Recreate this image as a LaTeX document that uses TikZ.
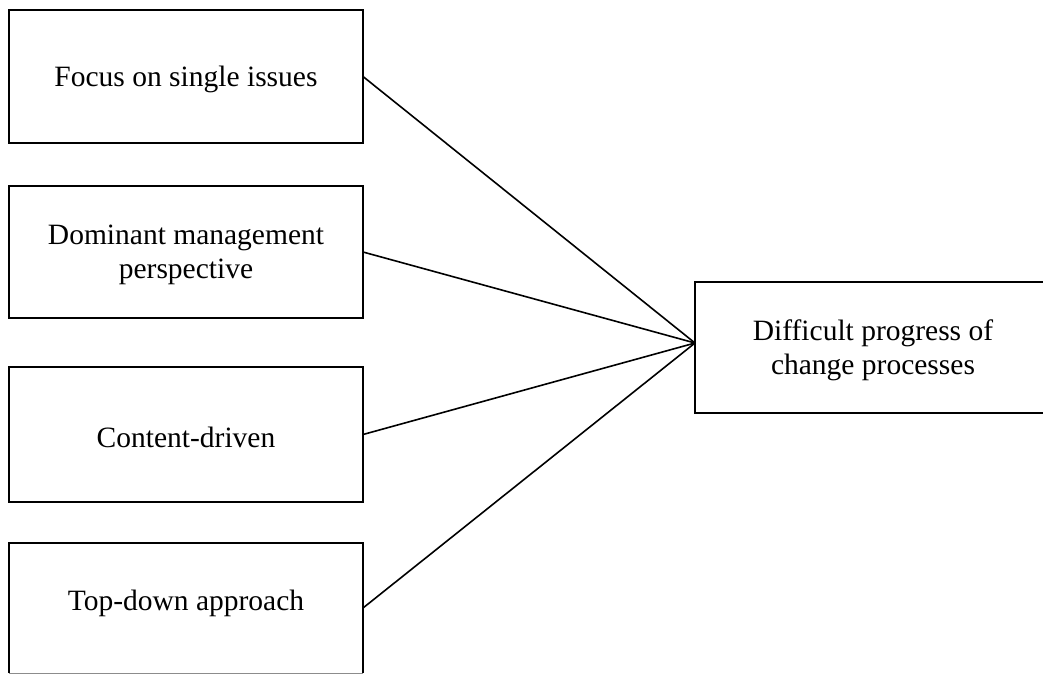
\documentclass[tikz,border=0pt]{standalone}
\usepackage{fontspec}
\setmainfont{Liberation Serif}
\begin{document}
\begin{tikzpicture}[x=1pt,y=-1pt,
  box/.style={draw=black,line width=1.6pt,inner sep=0pt,outer sep=0pt},
  txt/.style={inner sep=0pt,align=center,font=\fontsize{29.5}{34}\selectfont},
  link/.style={draw=black,line width=1.6pt}]
\useasboundingbox (0,0) rectangle (1043,675);
\clip (0,0) rectangle (1043,675);
\node[box,minimum width=354pt,minimum height=133pt] (a) at (186,76.5) {};
\node[txt,yshift=-2.5pt] (ta) at (a.center) {Focus on single issues};
\node[box,minimum width=354pt,minimum height=132pt] (b) at (186,252) {};
\node[txt,yshift=-3pt] (tb) at (b.center) {Dominant management\\perspective};
\node[box,minimum width=354pt,minimum height=135pt] (c) at (186,434.5) {};
\node[txt,yshift=-2.5pt] (tc) at (c.center) {Content-driven};
\node[box,minimum width=354pt,minimum height=130pt,draw=none] (d) at (186,608) {};
\node[txt,yshift=5pt] (td) at (d.center) {Top-down approach};
\draw[line width=1.6pt] (d.south west) -- (d.north west) -- (d.north east) -- (d.south east);
\draw[line width=1pt,draw=black!45] (d.south west) -- (d.south east);
\node[box,minimum width=360pt,minimum height=131pt] (r) at (875,347.5) {};
\node[txt,yshift=-2.5pt,xshift=-2pt] (tr) at (r.center) {Difficult progress of\\change processes};
\coordinate (p) at ([yshift=4.5pt]r.west);
\draw[link] (a.east) -- (p);
\draw[link] (b.east) -- (p);
\draw[link] (c.east) -- (p);
\draw[link] (d.east) -- (p);
\end{tikzpicture}
\end{document}
